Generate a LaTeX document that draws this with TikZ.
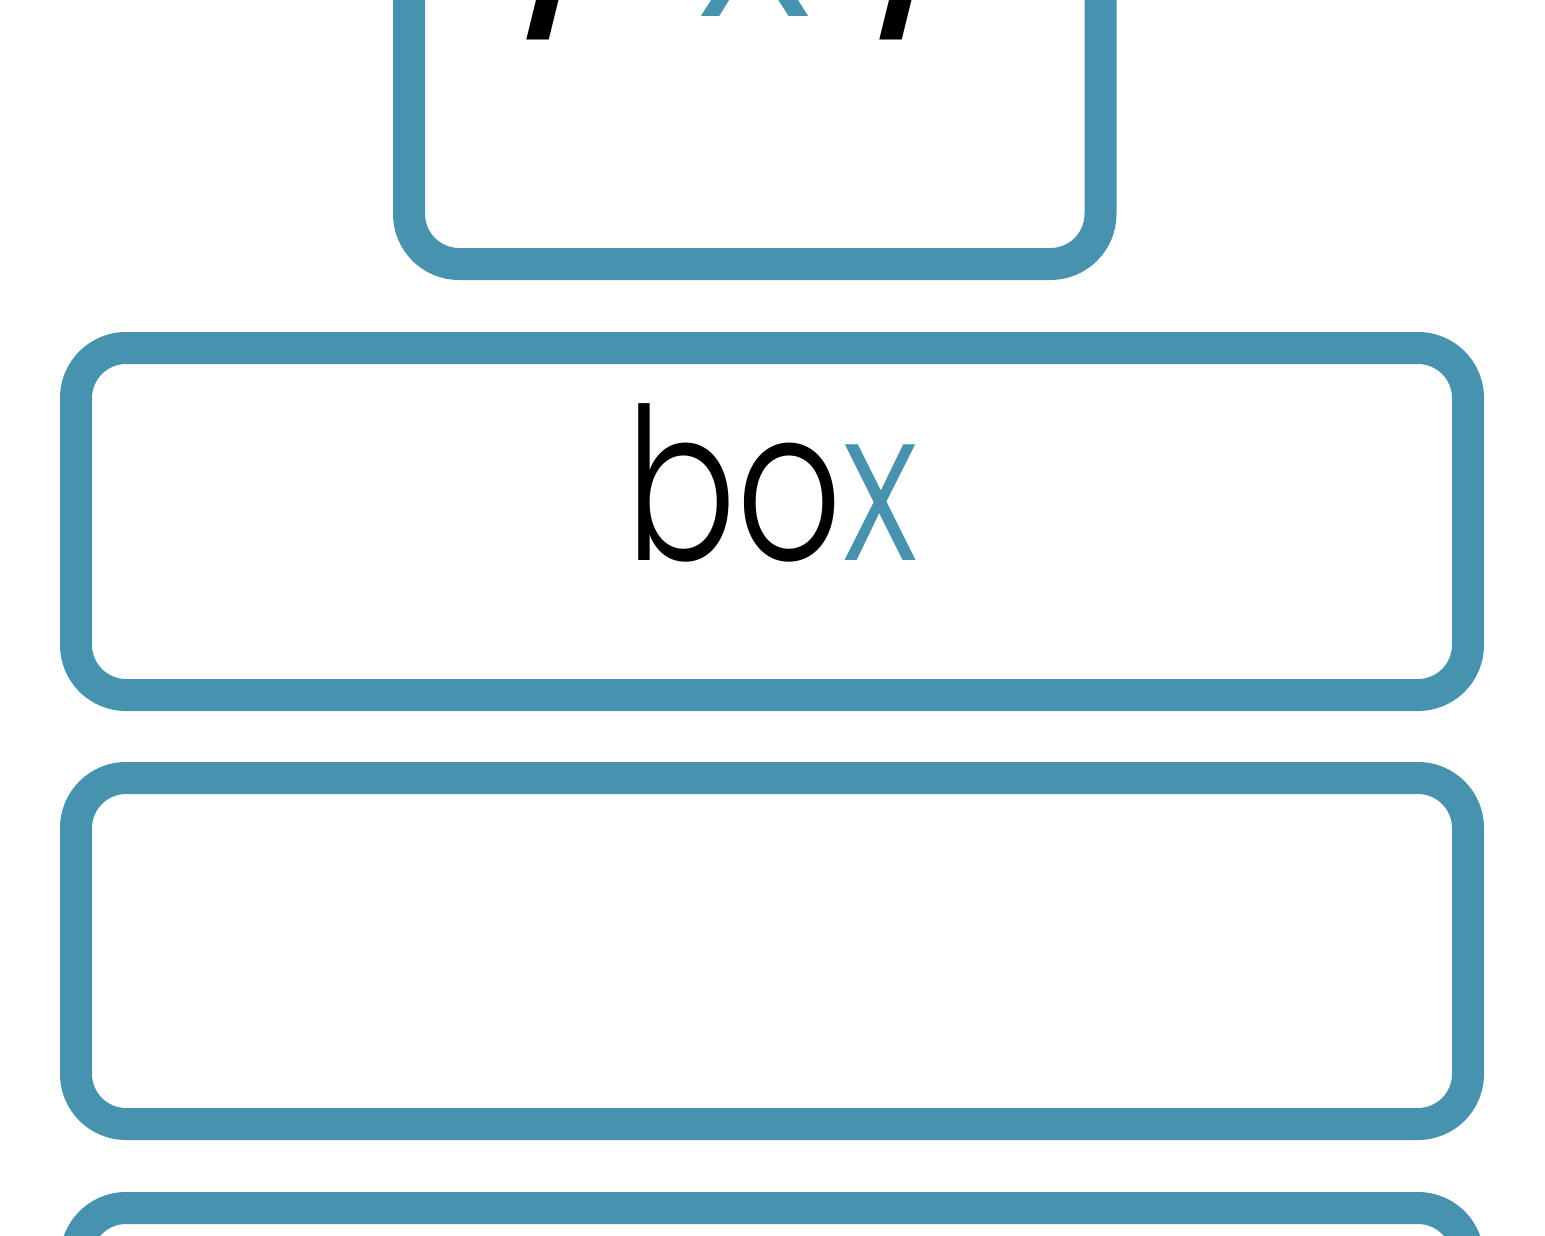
\documentclass[tikz,border=0pt]{standalone}
\usepackage{fontspec}
\setmainfont{Poppins}
\newfontfamily\lightfont{Poppins Light}
\definecolor{boxblue}{HTML}{4793AF}
\tikzset{
  frame/.style={draw=boxblue, line width=32pt, rounded corners=50pt},
  word/.style={inner sep=0pt, anchor=base, font=\lightfont\fontsize{212}{230}\selectfont},
  slash/.style={inner sep=0pt, anchor=base, font=\fontsize{250}{270}\selectfont}
}
\begin{document}
\begin{tikzpicture}[x=1pt,y=-1pt]
\useasboundingbox (0,0) rectangle (1545,1236);
\clip (0,0) rectangle (1545,1236);
% top box (cut off)
\draw[frame] (409,-300) rectangle (1100.5,264);
\node[slash] (s1) at (573,-2) {/};
\node[word, font=\lightfont\fontsize{250}{270}\selectfont, text=boxblue] (tx) at (755,17) {x};
\node[slash] (s2) at (926,-2) {/};
% box with label
\node[word, xscale=0.78, transform shape] (label) at (772,560) {bo\textcolor{boxblue}{x}};
\draw[frame] (76,348) rectangle (1468,695);
% empty box
\draw[frame] (76,778) rectangle (1468,1124);
% bottom box (cut off)
\draw[frame] (76,1208) rectangle (1468,1560);
\end{tikzpicture}
\end{document}
